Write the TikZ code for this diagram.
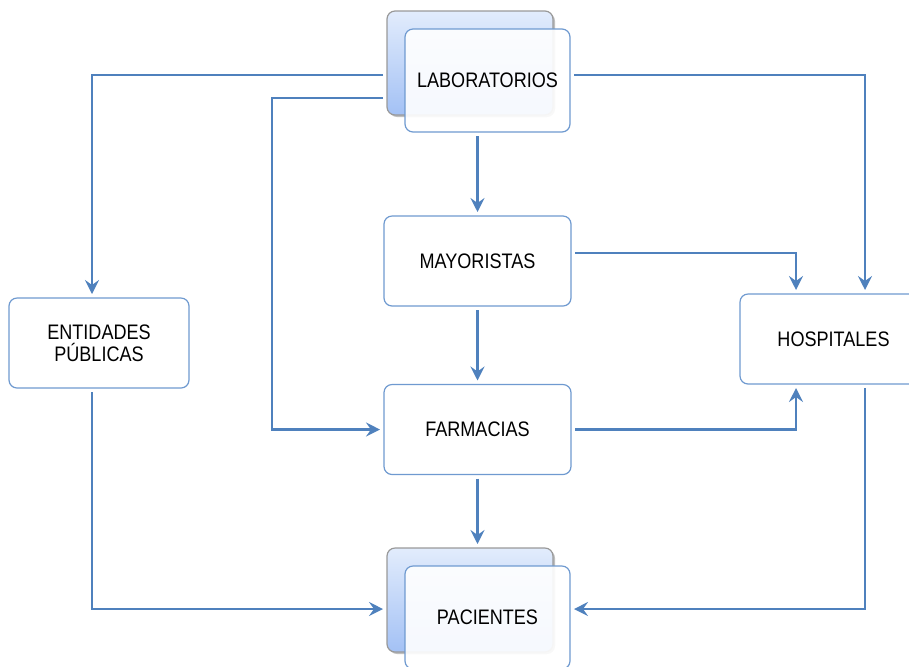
\documentclass[tikz,border=0pt]{standalone}
\usepackage{fontspec}
\setmainfont{Liberation Sans}[FakeStretch=0.86]
\usetikzlibrary{arrows.meta,shadows}
\definecolor{linkblue}{HTML}{4F81BD}
\definecolor{boxline}{HTML}{6F9AD0}
\definecolor{backtop}{HTML}{E2ECFC}
\definecolor{backbot}{HTML}{A3C1F5}

\begin{document}
\begin{tikzpicture}[x=0.5pt,y=-0.5pt]

      \tikzset{box/.style={draw=boxline, line width=0.6pt, rounded corners=4pt, fill=white, minimum width=93.5pt, minimum height=45pt, align=center, font=\fontsize{10.5}{11}\selectfont, outer sep=2pt},
               back/.style={draw=gray!80, line width=0.6pt, rounded corners=4pt, top color=backtop, bottom color=backbot, minimum width=83pt, minimum height=52pt, drop shadow={shadow xshift=1pt, shadow yshift=-1pt, opacity=0.5}, outer sep=2pt},
               front/.style={box, minimum width=82.5pt, minimum height=51.5pt, fill opacity=0.9, text opacity=1},
               flow/.style={draw=linkblue, line width=1.2pt, -{Stealth[length=7pt,width=7pt,inset=2.5pt]}}}
      \useasboundingbox (0,0) rectangle (909,666);
      \clip (0,0) rectangle (909,666);
%% Vertices
      	\node[back] (labback) at (470,63) {};
      	\node[front] (lab) at (487.5,80.5) {LABORATORIOS};
      	\node[box] (may) at (477.5,261) {MAYORISTAS};
      	\node[box] (far) at (477.5,429.5) {FARMACIAS};
      	\node[box, minimum width=90pt] (ent) at (99,343) {ENTIDADES\\PÚBLICAS};
      	\node[box] (hos) at (833.5,339) {HOSPITALES};
      	\node[back] (pacback) at (470,600) {};
      	\node[front] (pac) at (487.5,617.5) {PACIENTES};
      	\coordinate (bend) at (272,250);
%Edges
		\draw[flow] ([yshift=-6pt]labback.west) -| ([xshift=-3.5pt]ent.north);
		\draw[flow] ([yshift=-17.5pt]labback.west) -| (bend) |- (far.west);
		\draw[flow] ([yshift=2.75pt]lab.east) -| ([xshift=15.75pt]hos.north);
		\draw[flow] (may.north |- lab.south) -- (may.north);
		\draw[flow] ([yshift=4pt]may.east) -| ([xshift=-18.75pt]hos.north);
		\draw[flow] (may.south) -- (far.north);
		\draw[flow] (far.east) -| ([xshift=-18.75pt]hos.south);
		\draw[flow] (far.south) -- (far.south |- pacback.north);
		\draw[flow] ([xshift=-3.5pt]ent.south) |- ([yshift=-4.5pt]pacback.west);
		\draw[flow] ([xshift=15.75pt]hos.south) |- ([yshift=4.25pt]pac.east);

\end{tikzpicture}
\end{document}
